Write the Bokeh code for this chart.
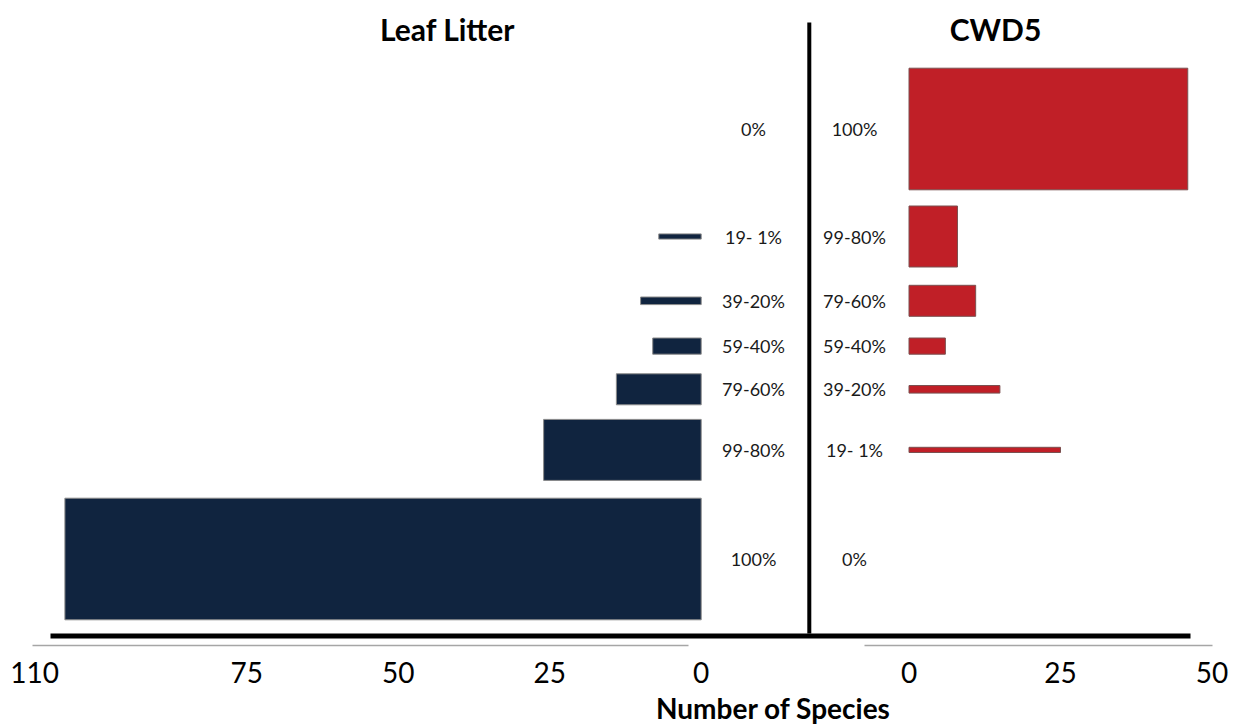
from bokeh.plotting import figure
from bokeh.models import Range1d, LinearAxis, FixedTicker, ColumnDataSource
from bokeh.core.properties import value
from bokeh.embed import file_html
from bokeh.resources import INLINE

# ---------------- data ----------------
left_title = "Leaf Litter"
right_title = "CWD5"
x_title = "Number of Species"

# rows listed top -> bottom
left_categories = ["0%", "19- 1%", "39-20%", "59-40%", "79-60%", "99-80%", "100%"]
left_values = [0, 7, 10, 8, 14, 26, 105]

right_categories = ["100%", "99-80%", "79-60%", "59-40%", "39-20%", "19- 1%", "0%"]
right_values = [46, 8, 11, 6, 15, 25, 0]

left_ticks = [0, 25, 50, 75, 110]
right_ticks = [0, 25, 50]

# ---------------- layout (page-pixel units) ----------------
row_center = [128.5, 236.0, 300.3, 345.6, 388.8, 449.4, 558.5]
thickness = {"100%": 121.6, "99-80%": 61.0, "79-60%": 31.0, "59-40%": 16.2,
             "39-20%": 7.6, "19- 1%": 5.2, "0%": 0.0}

W, H = 1238, 726
X0, Y0 = 0, 0
PX = 6.06            # pixels per species
LEFT_ZERO = 700.7
RIGHT_ZERO = 908.5
NAVY = "#10243f"
RED = "#c01f27"
FONT = "Lato"

p = figure(width=W, height=H,
           x_range=Range1d(X0, X0 + W), y_range=Range1d(Y0 + H, Y0),
           x_axis_type=None, y_axis_type=None,
           output_backend="svg", toolbar_location=None,
           min_border=0, outline_line_color=None, background_fill_color="white")
p.extra_x_ranges = {
    "left": Range1d((LEFT_ZERO - X0) / PX, (LEFT_ZERO - X0 - W) / PX),
    "right": Range1d((X0 - RIGHT_ZERO) / PX, (X0 + W - RIGHT_ZERO) / PX),
}

# axes (tick labels only)
for name, ticks in (("left", left_ticks), ("right", right_ticks)):
    ax = LinearAxis(x_range_name=name, ticker=FixedTicker(ticks=ticks),
                    fixed_location=645,
                    axis_line_color=None, major_tick_line_color=None,
                    minor_tick_line_color=None,
                    major_label_text_font=FONT, major_label_text_font_size="28px",
                    major_label_text_color="black", major_label_standoff=10)
    p.add_layout(ax, "below")

# bars
def bar_source(cats, vals):
    rows = [(row_center[i], thickness[c], v) for i, (c, v) in enumerate(zip(cats, vals)) if v > 0]
    return ColumnDataSource(dict(y=[r[0] for r in rows], h=[r[1] for r in rows],
                                 v=[r[2] for r in rows]))

p.hbar(y="y", height="h", left=0, right="v", source=bar_source(left_categories, left_values),
       x_range_name="left", fill_color=NAVY, line_color="#8a8a8a", line_width=1)
p.hbar(y="y", height="h", left=0, right="v", source=bar_source(right_categories, right_values),
       x_range_name="right", fill_color=RED, line_color="#7a5050", line_width=1)

# decorative lines
p.segment(x0=[808.8], y0=[22], x1=[808.8], y1=[633], line_width=4, line_color="black")
p.segment(x0=[50], y0=[635.5], x1=[1190], y1=[635.5], line_width=5, line_color="black")
p.segment(x0=[32, 864], y0=[645, 645], x1=[688, 1212], y1=[645, 645],
          line_width=1.5, line_color="#a6a6a6")

# category labels
p.text(x=[753] * len(left_categories), y=row_center, text=left_categories,
       text_align="center", text_baseline="middle", text_font=value(FONT),
       text_font_size="18px", text_color="#1a1a1a")
p.text(x=[854] * len(right_categories), y=row_center, text=right_categories,
       text_align="center", text_baseline="middle", text_font=value(FONT),
       text_font_size="18px", text_color="#1a1a1a")

# titles
p.text(x=[447, 995], y=[28, 28], text=[left_title, right_title],
       text_align="center", text_baseline="middle", text_font=value(FONT),
       text_font_style="bold", text_font_size="30px", text_color="black")
p.text(x=[773], y=[707], text=[x_title],
       text_align="center", text_baseline="middle", text_font=value(FONT),
       text_font_style="bold", text_font_size="28px", text_color="black")

open("out.html", "w").write(file_html(p, INLINE))
